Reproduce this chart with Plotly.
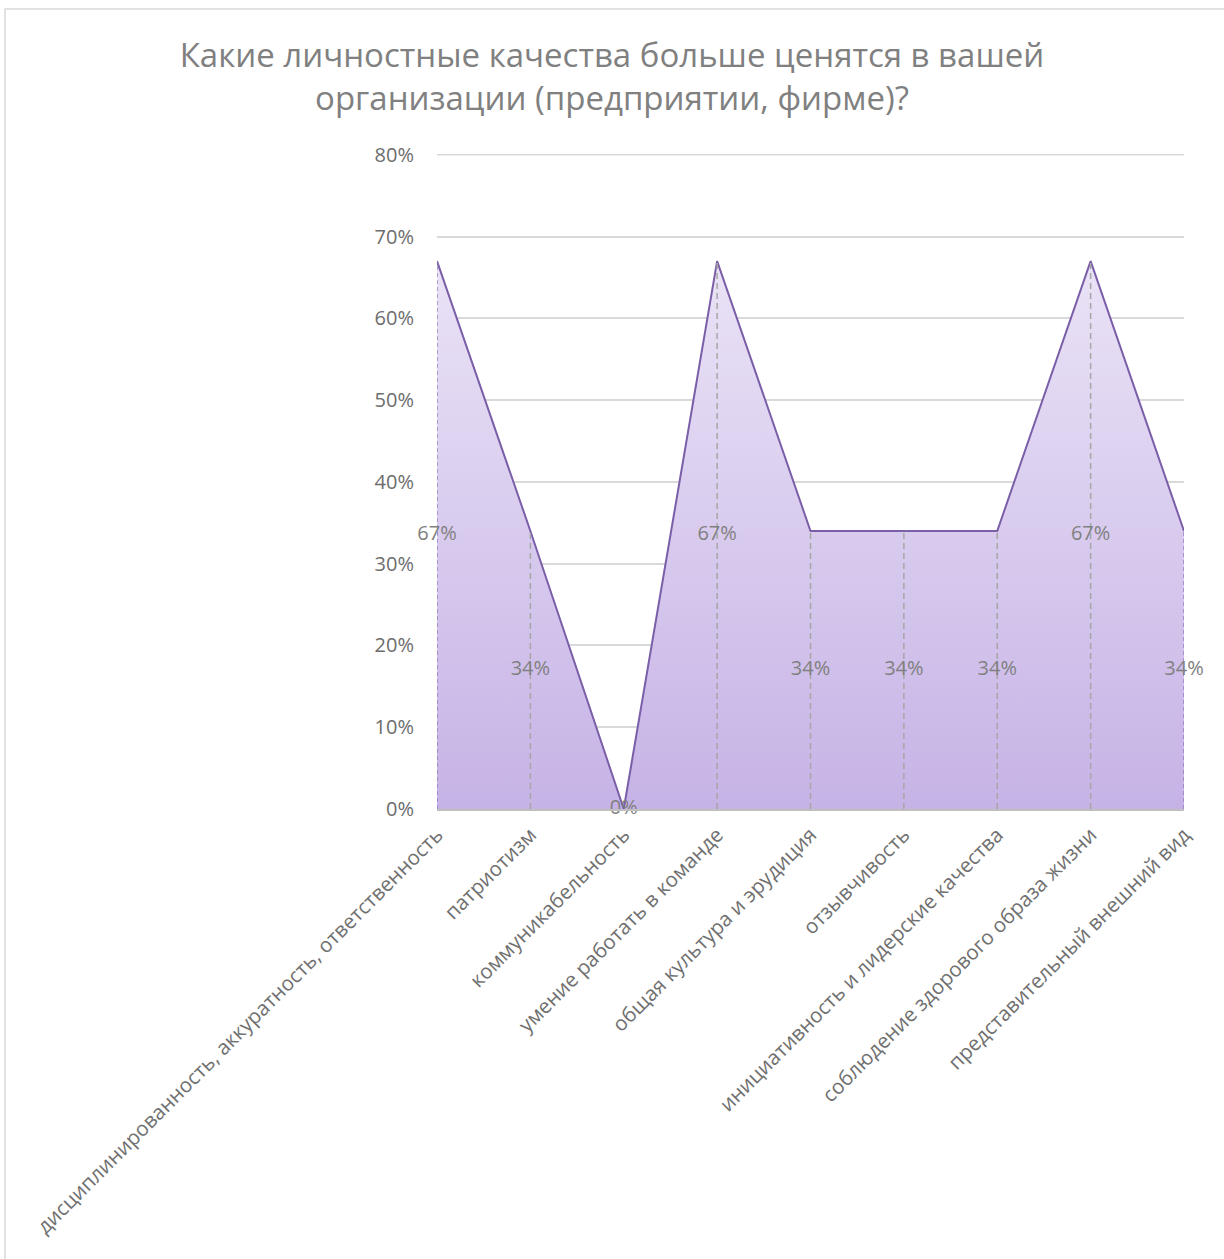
import plotly.graph_objects as go

categories = [
    "дисциплинированность, аккуратность, ответственность",
    "патриотизм",
    "коммуникабельность",
    "умение работать в команде",
    "общая культура и эрудиция",
    "отзывчивость",
    "инициативность и лидерские качества",
    "соблюдение здорового образа жизни",
    "представительный внешний вид",
]
values = [0.67, 0.34, 0.0, 0.67, 0.34, 0.34, 0.34, 0.67, 0.34]
y_ticks = [0, 0.1, 0.2, 0.3, 0.4, 0.5, 0.6, 0.7, 0.8]
y_tick_labels = ["0%", "10%", "20%", "30%", "40%", "50%", "60%", "70%", "80%"]

W, H = 1224, 1259
ML, MR, MT, MB = 437, 40, 154, 450
xs = list(range(len(categories)))
n = len(categories)
FONT = "Open Sans, DejaVu Sans, sans-serif"

fig = go.Figure()

# area
fig.add_trace(go.Scatter(
    x=xs, y=values, mode="lines", fill="tozeroy",
    line=dict(color="#7a5fa8", width=2),
    fillgradient=dict(type="vertical", start=0, stop=0.8,
                      colorscale=[[0, "#c6b3e6"], [1, "#f1ecf9"]]),
    hoverinfo="skip", showlegend=False,
))

# drop lines (interior, gray dashed)
dx, dy = [], []
for i, v in enumerate(values):
    if 0 < i < n - 1 and v > 0:
        dx += [i, i, None]
        dy += [0, v, None]
fig.add_trace(go.Scatter(x=dx, y=dy, mode="lines",
                         line=dict(color="#a6a6a6", width=1.5, dash="6px,4px"),
                         hoverinfo="skip", showlegend=False))
# edge drop lines (purple dashed)
ex, ey = [], []
for i in (0, n - 1):
    ex += [i, i, None]
    ey += [0, values[i], None]
fig.add_trace(go.Scatter(x=ex, y=ey, mode="lines",
                         line=dict(color="#8a70b8", width=1.2, dash="4px,3px"),
                         hoverinfo="skip", showlegend=False))

# labels at half height
fig.add_trace(go.Scatter(
    x=xs, y=[v / 2 for v in values], mode="text",
    text=[f"{round(v*100)}%" for v in values],
    textposition="middle center",
    textfont=dict(family=FONT, size=20, color="#808080"),
    hoverinfo="skip", showlegend=False, cliponaxis=False,
))

pw = W - ML - MR
ph = H - MT - MB
fig.update_layout(
    width=W, height=H,
    margin=dict(l=ML, r=MR, t=MT, b=MB),
    paper_bgcolor="white", plot_bgcolor="white",
    title=dict(
        text="Какие личностные качества больше ценятся в вашей<br>организации (предприятии, фирме)?",
        x=0.5, xref="container", xanchor="center", y=1 - 67 / H, yref="container",
        yanchor="middle",
        font=dict(family=FONT, size=33, color="#808080"),
    ),
    xaxis=dict(
        range=[0, n - 1], tickmode="array", tickvals=xs, ticktext=categories,
        tickangle=-45, showgrid=False, zeroline=False,
        showline=True, linecolor="#bfbfbf", linewidth=1.5,
        tickfont=dict(family=FONT, size=20.5, color="#707070"),
        ticks="", ticklabelstandoff=4, fixedrange=True,
    ),
    yaxis=dict(
        range=[0, 0.801], tickmode="array", tickvals=y_ticks, ticktext=y_tick_labels,
        showgrid=True, gridcolor="#d9d9d9", gridwidth=1.5, zeroline=False,
        showline=False, ticks="", ticklabelstandoff=22,
        tickfont=dict(family=FONT, size=20, color="#6d6d6d"),
    ),
    shapes=[
        dict(
            type="rect", xref="paper", yref="paper",
            x0=(5 - ML) / pw, x1=(W + 5 - ML) / pw,
            y0=-(MB + 5) / ph,
            y1=(H - 9 - MB) / ph,
            line=dict(color="#d9d9d9", width=1.5), layer="below",
        ),
        dict(
            type="line", xref="paper", yref="y",
            x0=0, x1=1, y0=y_ticks[-1], y1=y_ticks[-1],
            line=dict(color="#d9d9d9", width=1.5), layer="below",
        ),
    ],
)

fig.write_html("out.html", config={"displayModeBar": False},
               post_script="document.body.style.margin='0px';document.body.style.overflow='hidden';")
